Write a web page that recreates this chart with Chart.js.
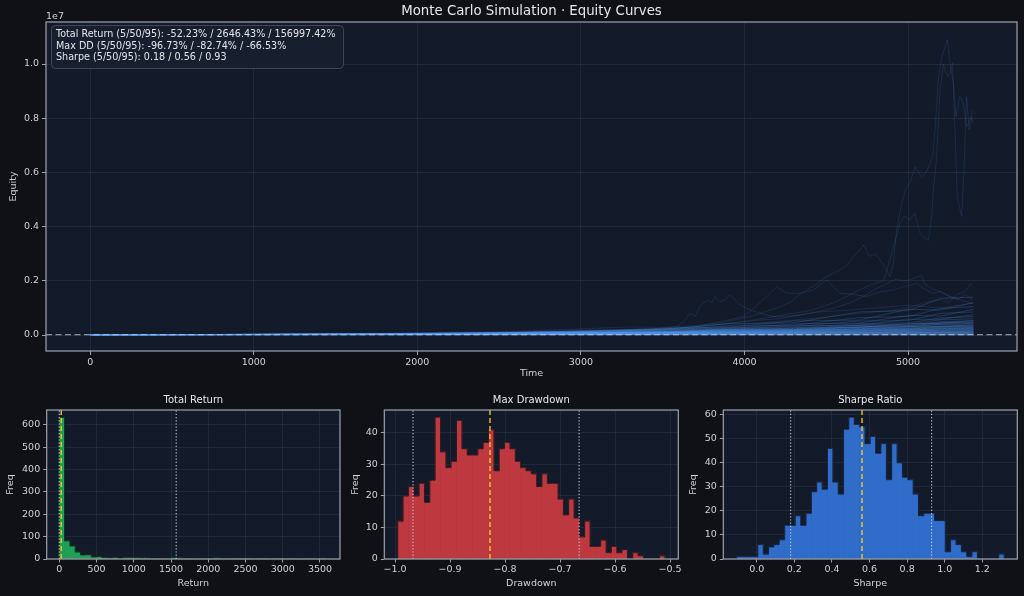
<!DOCTYPE html>
<html><head><meta charset="utf-8">
<script src="https://cdn.jsdelivr.net/npm/chart.js@4.4.1/dist/chart.umd.min.js"></script>
<style>
html,body{margin:0;padding:0;background:#0f1117;}
body{width:1024px;height:596px;position:relative;overflow:hidden;}
canvas{position:absolute;display:block;}
</style></head><body>
<canvas id="main" width="1024" height="390" style="left:0;top:0;width:1024px;height:390px"></canvas>
<canvas id="h1" width="345" height="206" style="left:0;top:390px;width:345px;height:206px"></canvas>
<canvas id="h2" width="339" height="206" style="left:345px;top:390px;width:339px;height:206px"></canvas>
<canvas id="h3" width="340" height="206" style="left:684px;top:390px;width:340px;height:206px"></canvas>
<script>
// ---------------- DATA ----------------
const MAIN_TITLE = 'Monte Carlo Simulation \u00b7 Equity Curves';
const INITIAL_EQUITY = 0.001;            // in units of 1e7
const TIME_TICKS = [0, 1000, 2000, 3000, 4000, 5000];
const EQUITY_TICKS = [0, 0.2, 0.4, 0.6, 0.8, 1.0];

const BAND_T_SHORT = [0, 1800, 3600, 4800, 5400];
const BAND_LOW = [
  [0.001, 0.0012, 0.0009, 0.0006, 0.0005],
  [0.001, 0.0011, 0.0013, 0.0010, 0.0008],
  [0.001, 0.0012, 0.0016, 0.0013, 0.0015],
  [0.001, 0.0013, 0.0015, 0.0019, 0.0020],
  [0.001, 0.0015, 0.0022, 0.0026, 0.0030],
  [0.001, 0.0016, 0.0025, 0.0035, 0.0040],
  [0.001, 0.0017, 0.0030, 0.0040, 0.0050],
  [0.001, 0.0018, 0.0032, 0.0050, 0.0060],
  [0.001, 0.0019, 0.0041, 0.0066, 0.0080],
  [0.001, 0.0022, 0.0045, 0.0078, 0.0100]
];
const BAND_T = [0, 800, 1600, 2400, 3000, 3500, 3900, 4300, 4700, 5000, 5200, 5400];
const BAND_MID = [
  [.001,.0014,.0017,.0025,.0029,.0034,.0042,.0046,.0056,.0058,.0067,.007],
  [.001,.0013,.0020,.0026,.0036,.0040,.0051,.0055,.0070,.0074,.0086,.009],
  [.001,.0015,.0019,.0030,.0040,.0045,.0059,.0065,.0084,.0088,.0105,.011],
  [.001,.0014,.0022,.0031,.0043,.0050,.0068,.0073,.0097,.0102,.0125,.013],
  [.001,.0016,.0022,.0036,.0046,.0062,.0072,.0095,.0108,.0135,.0140,.016],
  [.001,.0015,.0025,.0036,.0054,.0063,.0090,.0098,.0138,.0145,.0180,.019],
  [.001,.0016,.0024,.0041,.0058,.0070,.0100,.0110,.0155,.0170,.0205,.022],
  [.001,.0017,.0025,.0043,.0063,.0076,.0112,.0122,.0175,.0185,.0238,.025],
  [.001,.0016,.0028,.0042,.0068,.0080,.0122,.0135,.0195,.0205,.0268,.028],
  [.001,.0018,.0027,.0048,.0071,.0088,.0135,.0150,.0220,.0235,.0305,.032],
  [.001,.0017,.0030,.0048,.0078,.0092,.0150,.0165,.0245,.0260,.0345,.036],
  [.001,.0018,.0029,.0054,.0082,.0100,.0168,.0180,.0280,.0295,.0390,.041],
  [.001,.0018,.0032,.0053,.0089,.0108,.0185,.0198,.0310,.0330,.0440,.046],
  [.001,.0019,.0031,.0060,.0092,.0118,.0205,.0215,.0350,.0365,.0495,.052]
];
const BAND_HIGH = [
  [.001,.0014,.0022,.0030,.0037,.0052,.0058,.0075,.0084,.0102,.011,.012],
  [.001,.0015,.0021,.0035,.0043,.006,.0068,.009,.010,.0128,.0135,.015],
  [.001,.0016,.0024,.0034,.0052,.0062,.0085,.0095,.013,.014,.017,.018],
  [.001,.0015,.0025,.0040,.0050,.0074,.0082,.0115,.013,.017,.0175,.02],
  [.001,.0017,.0026,.0039,.0062,.0075,.0103,.012,.0165,.018,.023,.024],
  [.001,.0016,.0028,.0045,.0058,.0090,.0100,.0145,.016,.022,.0225,.027],
  [.001,.0017,.0026,.0047,.0070,.0085,.0125,.014,.0205,.022,.028,.03],
  [.001,.0018,.0029,.0046,.0075,.0096,.013,.0155,.023,.025,.031,.034],
  [.001,.0017,.0031,.0052,.0072,.0112,.0130,.019,.022,.031,.031,.038],
  [.001,.0018,.0030,.0056,.0085,.0105,.0160,.018,.028,.030,.040,.043],
  [.001,.0019,.0032,.0053,.0092,.0115,.018,.020,.031,.034,.046,.048],
  [.001,.0018,.0034,.0060,.0088,.0140,.0165,.026,.028,.042,.043,.054],
  [.001,.0019,.0033,.0065,.0095,.0130,.021,.023,.037,.040,.056,.06],
  [.001,.0019,.0036,.0062,.0110,.0145,.023,.026,.042,.045,.063,.068],
  [.001,.0020,.0035,.0072,.0105,.0175,.020,.034,.036,.058,.058,.075],
  [.001,.0019,.0039,.0068,.0125,.0165,.027,.030,.052,.053,.080,.085],
  [.001,.0021,.0036,.0080,.0115,.0210,.024,.041,.044,.072,.070,.095],
  [.001,.0020,.0042,.0074,.0145,.0185,.033,.036,.064,.068,.098,.105],
  [.001,.0021,.0039,.0090,.0130,.0250,.028,.052,.055,.095,.092,.12],
  [.001,.0022,.0046,.0083,.0170,.0210,.042,.045,.085,.090,.135,.14]
];
const CURVE_A = [[0,0.001],[500,0.0015],[1000,0.003],[1500,0.005],[2000,0.008],[2500,0.012],[2800,0.018],[3100,0.025],[3300,0.03],[3500,0.028],[3700,0.035],[3850,0.045],[3975,0.06],[4050,0.07],[4120,0.085],[4200,0.1],[4280,0.12],[4340,0.15],[4420,0.18],[4502,0.215],[4584,0.24],[4630,0.26],[4665,0.29],[4700,0.31],[4727,0.332],[4767,0.29],[4800,0.3],[4828,0.277],[4860,0.25],[4890,0.215],[4910,0.264],[4930,0.387],[4961,0.486],[4991,0.547],[5012,0.56],[5043,0.621],[5063,0.6],[5083,0.584],[5110,0.6],[5134,0.633],[5150,0.66],[5165,0.757],[5185,0.941],[5206,1.027],[5225,1.06],[5240,1.089],[5260,0.99],[5277,0.929],[5293,0.806],[5317,0.88],[5338,0.855],[5358,0.769],[5379,0.793],[5395,0.83]];
const CURVE_B = [[0,0.001],[1000,0.002],[2000,0.006],[2600,0.01],[3000,0.015],[3400,0.02],[3700,0.03],[4000,0.05],[4200,0.07],[4400,0.09],[4550,0.12],[4650,0.15],[4750,0.18],[4850,0.2],[4900,0.3],[4951,0.412],[4980,0.44],[5012,0.424],[5040,0.45],[5073,0.375],[5100,0.36],[5124,0.35],[5144,0.437],[5155,0.535],[5175,0.658],[5195,0.9],[5216,1.0],[5230,0.97],[5246,0.953],[5260,0.98],[5272,1.003],[5287,0.757],[5300,0.51],[5315,0.47],[5328,0.437],[5342,0.609],[5358,0.88],[5374,0.757],[5389,0.806],[5398,0.78]];
const CURVE_C = [[0,0.001],[1500,0.003],[2500,0.008],[3000,0.012],[3500,0.02],[3800,0.035],[4000,0.05],[4200,0.06],[4400,0.08],[4550,0.1],[4650,0.12],[4750,0.15],[4800,0.17],[4870,0.19],[4920,0.205],[4990,0.2],[5040,0.21],[5080,0.22],[5100,0.19],[5150,0.17],[5200,0.16],[5260,0.14],[5300,0.13],[5350,0.15],[5395,0.13]];
const CURVE_D = [[0,0.001],[1000,0.0018],[2000,0.004],[2500,0.007],[3000,0.01],[3500,0.018],[3800,0.03],[4100,0.045],[4400,0.06],[4700,0.08],[4900,0.09],[5000,0.1],[5100,0.12],[5200,0.13],[5250,0.12],[5300,0.15],[5350,0.16],[5380,0.19],[5395,0.18]];
const CURVE_E = [[0,0.001],[1000,0.002],[2000,0.005],[2500,0.008],[3000,0.014],[3300,0.02],[3500,0.025],[3586,0.031],[3630,0.05],[3667,0.08],[3700,0.07],[3728,0.105],[3769,0.129],[3800,0.12],[3820,0.142],[3850,0.123],[3880,0.13],[3911,0.148],[3940,0.13],[3973,0.111],[4034,0.092],[4095,0.08],[4176,0.068],[4300,0.07],[4450,0.085],[4600,0.09],[4800,0.1],[5000,0.11],[5200,0.1],[5395,0.117]];
const CURVE_F = [[0,0.001],[1000,0.002],[2000,0.004],[2800,0.008],[3300,0.015],[3700,0.03],[3993,0.068],[4060,0.1],[4136,0.142],[4197,0.178],[4258,0.154],[4340,0.154],[4421,0.166],[4502,0.203],[4543,0.178],[4584,0.154],[4660,0.15],[4747,0.142],[4830,0.16],[4910,0.166],[4980,0.18],[5053,0.19],[5100,0.17],[5155,0.154],[5200,0.16],[5256,0.142],[5320,0.13],[5395,0.117]];

// Histograms
const RETURN_COUNTS = [634,81,58,31,18,19,9,11,6,4,7,3,6,6,5,4,4,3,3,3,2,6,4,3,3,2,2,3,3,4,3,2,1,1,1,1,0,1,1,0,1,1,0,1,0,0,1,0,0,1];
const RETURN_BIN_START = -0.95, RETURN_BIN_WIDTH = 71.6;
const RETURN_PCT = [-0.5223, 26.4643, 1569.9742];
const RETURN_TICKS = [0, 500, 1000, 1500, 2000, 2500, 3000, 3500];
const RETURN_FREQ_TICKS = [0, 100, 200, 300, 400, 500, 600];

const DD_COUNTS = [12,20,23,20,24,18,25,45,34,29,31,44,35,33,33,35,37,41,28,35,37,35,31,29,28,27,23,27,24,24,19,14,19,13,7,12,4,4,6,2,4,2,3,0,2,1,0,0,0,1];
const DD_BIN_START = -0.995, DD_BIN_WIDTH = 0.00971;
const DD_PCT = [-0.9673, -0.8274, -0.6653];
const DD_TICKS = [-1.0, -0.9, -0.8, -0.7, -0.6, -0.5];
const DD_FREQ_TICKS = [0, 10, 20, 30, 40];

const SHARPE_COUNTS = [1,1,1,1,6,2,5,6,8,14,14,18,14,19,28,32,29,46,32,27,54,59,56,55,48,51,44,48,33,48,40,34,33,27,18,19,19,16,16,3,8,6,3,1,3,0,0,0,0,2];
const SHARPE_BIN_START = -0.108, SHARPE_BIN_WIDTH = 0.02848;
const SHARPE_PCT = [0.18, 0.56, 0.93];
const SHARPE_TICKS = [0.0, 0.2, 0.4, 0.6, 0.8, 1.0, 1.2];
const SHARPE_FREQ_TICKS = [0, 10, 20, 30, 40, 50, 60];

// ---------------- STYLE ----------------
const FONT = "'DejaVu Sans', 'Liberation Sans', sans-serif";
const PLOT_BG = '#131a2a';
const GRID = 'rgba(52,60,80,0.38)';
const SPINE = '#9ea3ab';
const TEXT = '#cfd2d8';
const TITLE = '#e6e7ea';
const CURVE_COLOR = 'rgba(80,155,245,0.22)';
const TALL_COLOR = 'rgba(77,150,240,0.14)';
Chart.defaults.font.family = FONT;
Chart.defaults.color = TEXT;

const pct = v => (v * 100).toFixed(2) + '%';
const STATS_TEXT = [
  'Total Return (5/50/95): ' + RETURN_PCT.map(pct).join(' / '),
  'Max DD (5/50/95): ' + DD_PCT.map(pct).join(' / '),
  'Sharpe (5/50/95): ' + SHARPE_PCT.map(v => v.toFixed(2)).join(' / ')
];
const minus = s => s.replace('-', '\u2212');

const framePlugin = {
  id: 'frame',
  beforeDraw(chart) {
    const {ctx, chartArea: a} = chart;
    ctx.save(); ctx.fillStyle = PLOT_BG;
    ctx.fillRect(a.left, a.top, a.right - a.left, a.bottom - a.top); ctx.restore();
  },
  afterDraw(chart) {
    const {ctx, chartArea: a} = chart;
    ctx.save(); ctx.strokeStyle = SPINE; ctx.lineWidth = 1.2;
    ctx.strokeRect(a.left, a.top, a.right - a.left, a.bottom - a.top); ctx.restore();
  }
};

function titlePlugin(text, size, y) {
  return {
    id: 'axTitle',
    afterDraw(chart) {
      const {ctx, chartArea: a} = chart;
      ctx.save(); ctx.fillStyle = TITLE; ctx.font = size + 'px ' + FONT;
      ctx.textAlign = 'center'; ctx.textBaseline = 'middle';
      ctx.fillText(text, (a.left + a.right) / 2, y); ctx.restore();
    }
  };
}

const annotPlugin = {
  id: 'annot',
  afterDraw(chart) {
    const {ctx} = chart;
    ctx.save();
    ctx.fillStyle = TEXT; ctx.font = '9.5px ' + FONT; ctx.textBaseline = 'middle'; ctx.textAlign = 'left';
    ctx.fillText('1e7', 46, 17);
    const x = 51.5, y = 25.5, w = 292, h = 43, r = 4;
    ctx.beginPath();
    ctx.moveTo(x + r, y); ctx.lineTo(x + w - r, y); ctx.arcTo(x + w, y, x + w, y + r, r);
    ctx.lineTo(x + w, y + h - r); ctx.arcTo(x + w, y + h, x + w - r, y + h, r);
    ctx.lineTo(x + r, y + h); ctx.arcTo(x, y + h, x, y + h - r, r);
    ctx.lineTo(x, y + r); ctx.arcTo(x, y, x + r, y, r); ctx.closePath();
    ctx.fillStyle = 'rgba(24,31,47,0.92)'; ctx.fill();
    ctx.strokeStyle = 'rgba(80,90,110,0.7)'; ctx.lineWidth = 1; ctx.stroke();
    ctx.fillStyle = '#e4e6ea'; ctx.font = '9.6px ' + FONT;
    const ys = [34.3, 46, 57.7];
    STATS_TEXT.forEach((t, i) => ctx.fillText(t, 56, ys[i]));
    ctx.restore();
  }
};

function lineDs(points, color, width, dash) {
  return {type: 'line', data: points, borderColor: color, borderWidth: width, borderDash: dash || [],
          pointRadius: 0, fill: false, tension: 0};
}

// ---------------- MAIN CHART ----------------
const X_MIN = -270, X_MAX = 5666, Y_MIN = -0.059, Y_MAX = 1.155;
const mainDatasets = [lineDs([{x: X_MIN, y: INITIAL_EQUITY}, {x: X_MAX, y: INITIAL_EQUITY}], 'rgba(205,207,212,0.85)', 1.2, [6, 3.5])];
[CURVE_A, CURVE_B, CURVE_C, CURVE_D, CURVE_E, CURVE_F].forEach(c =>
  mainDatasets.push(lineDs(c.map(p => ({x: p[0], y: p[1]})), TALL_COLOR, 1)));
BAND_HIGH.forEach(v => mainDatasets.push(lineDs(BAND_T.map((t, i) => ({x: t, y: v[i]})), CURVE_COLOR, 1)));
BAND_MID.forEach(v => mainDatasets.push(lineDs(BAND_T.map((t, i) => ({x: t, y: v[i]})), CURVE_COLOR, 1)));
BAND_LOW.forEach(v => mainDatasets.push(lineDs(BAND_T_SHORT.map((t, i) => ({x: t, y: v[i]})), CURVE_COLOR, 1)));

function gridOpts(tickLen) {
  return {color: GRID, lineWidth: 1, drawTicks: true, tickLength: tickLen, tickColor: SPINE, tickWidth: 1};
}

new Chart(document.getElementById('main'), {
  type: 'line',
  data: {datasets: mainDatasets},
  options: {
    responsive: false, animation: false, events: [],
    layout: {padding: {left: 0, right: 7, top: 22, bottom: 0}},
    plugins: {legend: {display: false}, tooltip: {enabled: false}, title: {display: false}},
    scales: {
      x: {
        type: 'linear', min: X_MIN, max: X_MAX, offset: false,
        afterBuildTicks: s => { s.ticks = TIME_TICKS.map(v => ({value: v})); },
        afterFit: s => { s.height = 39; },
        grid: gridOpts(4), border: {display: false},
        ticks: {color: TEXT, font: {size: 9.5}, padding: 1.5, maxRotation: 0, autoSkip: false, callback: v => String(v)},
        title: {display: true, text: 'Time', color: TEXT, font: {size: 9.5}, padding: {top: 0, bottom: 10.3}}
      },
      y: {
        type: 'linear', min: Y_MIN, max: Y_MAX,
        afterBuildTicks: s => { s.ticks = EQUITY_TICKS.map(v => ({value: v})); },
        afterFit: s => { s.width = 46; },
        grid: gridOpts(4), border: {display: false},
        ticks: {color: TEXT, font: {size: 9.5}, padding: 3, autoSkip: false, callback: v => v.toFixed(1)},
        title: {display: true, text: 'Equity', color: TEXT, font: {size: 9.5}, padding: {top: 8.3, bottom: 0}}
      }
    }
  },
  plugins: [framePlugin, annotPlugin, titlePlugin(MAIN_TITLE, 13.3, 12)]
});

// ---------------- HISTOGRAMS ----------------
const MEDIAN_COLOR = 'rgba(250,196,40,0.92)';
const DOT_COLOR = 'rgba(205,208,215,0.9)';
const EDGE_COLOR = 'rgba(14,16,24,0.75)';

function makeHist(id, p) {
  const n = p.counts.length;
  const end = p.start + n * p.width;
  const bars = p.counts.map((c, i) => ({x: p.start + (i + 0.5) * p.width, y: c}));
  const outline = [{x: p.start, y: 0}, {x: p.start, y: p.counts[0]}].concat(bars, [{x: end, y: p.counts[n - 1]}, {x: end, y: 0}]);
  const vline = (v, color, dash, w) => lineDs([{x: v, y: p.ymin}, {x: v, y: p.ymax}], color, w, dash);
  const outlineDs = lineDs(outline, EDGE_COLOR, 1);
  outlineDs.stepped = 'middle';
  new Chart(document.getElementById(id), {
    type: 'bar',
    data: {datasets: [
      vline(p.pct[1], MEDIAN_COLOR, [5, 3], 1.5),
      vline(p.pct[0], DOT_COLOR, [1.2, 2], 1.2),
      vline(p.pct[2], DOT_COLOR, [1.2, 2], 1.2),
      outlineDs,
      {type: 'bar', data: bars, backgroundColor: p.color, borderWidth: 0, barPercentage: 1, categoryPercentage: 1, grouped: false}
    ]},
    options: {
      responsive: false, animation: false, events: [],
      layout: {padding: {left: 0, right: p.padRight, top: 20, bottom: 0}},
      plugins: {legend: {display: false}, tooltip: {enabled: false}, title: {display: false}},
      scales: {
        x: {
          type: 'linear', min: p.xmin, max: p.xmax, offset: false, z: 1,
          afterBuildTicks: s => { s.ticks = p.xticks.map(v => ({value: v})); },
          afterFit: s => { s.height = 37; },
          grid: Object.assign(gridOpts(3.5), {offset: false}), border: {display: false},
          ticks: {color: TEXT, font: {size: 9.5}, padding: 1, maxRotation: 0, autoSkip: false, callback: p.xfmt},
          title: {display: true, text: p.xlabel, color: TEXT, font: {size: 9.5}, padding: {top: 0, bottom: 6.7}}
        },
        y: {
          type: 'linear', min: p.ymin, max: p.ymax, z: 1,
          afterBuildTicks: s => { s.ticks = p.yticks.map(v => ({value: v})); },
          afterFit: s => { s.width = p.yw; },
          grid: gridOpts(3.5), border: {display: false},
          ticks: {color: TEXT, font: {size: 9.5}, padding: 3, autoSkip: false, callback: v => String(v)},
          title: {display: true, text: 'Freq', color: TEXT, font: {size: 9.5}, padding: {top: p.ytitlePad, bottom: 0}}
        }
      }
    },
    plugins: [framePlugin, titlePlugin(p.title, 10, 10)]
  });
}

makeHist('h1', {
  title: 'Total Return', xlabel: 'Return', counts: RETURN_COUNTS, start: RETURN_BIN_START, width: RETURN_BIN_WIDTH,
  pct: RETURN_PCT, color: '#1fa056', xmin: -169, xmax: 3769, ymin: 0, ymax: 667,
  xticks: RETURN_TICKS, yticks: RETURN_FREQ_TICKS, xfmt: v => String(v), yw: 46.7, padRight: 5, ytitlePad: 4.7
});
makeHist('h2', {
  title: 'Max Drawdown', xlabel: 'Drawdown', counts: DD_COUNTS, start: DD_BIN_START, width: DD_BIN_WIDTH,
  pct: DD_PCT, color: '#be383f', xmin: -1.0195, xmax: -0.485, ymin: 0, ymax: 47.3,
  xticks: DD_TICKS, yticks: DD_FREQ_TICKS, xfmt: v => minus(v.toFixed(1)), yw: 39.3, padRight: 5.7, ytitlePad: 4.7
});
makeHist('h3', {
  title: 'Sharpe Ratio', xlabel: 'Sharpe', counts: SHARPE_COUNTS, start: SHARPE_BIN_START, width: SHARPE_BIN_WIDTH,
  pct: SHARPE_PCT, color: '#306cc9', xmin: -0.178, xmax: 1.386, ymin: 0, ymax: 62,
  xticks: SHARPE_TICKS, yticks: SHARPE_FREQ_TICKS, xfmt: v => v.toFixed(1), yw: 39.3, padRight: 6.7, ytitlePad: 4
});
</script>
</body></html>
